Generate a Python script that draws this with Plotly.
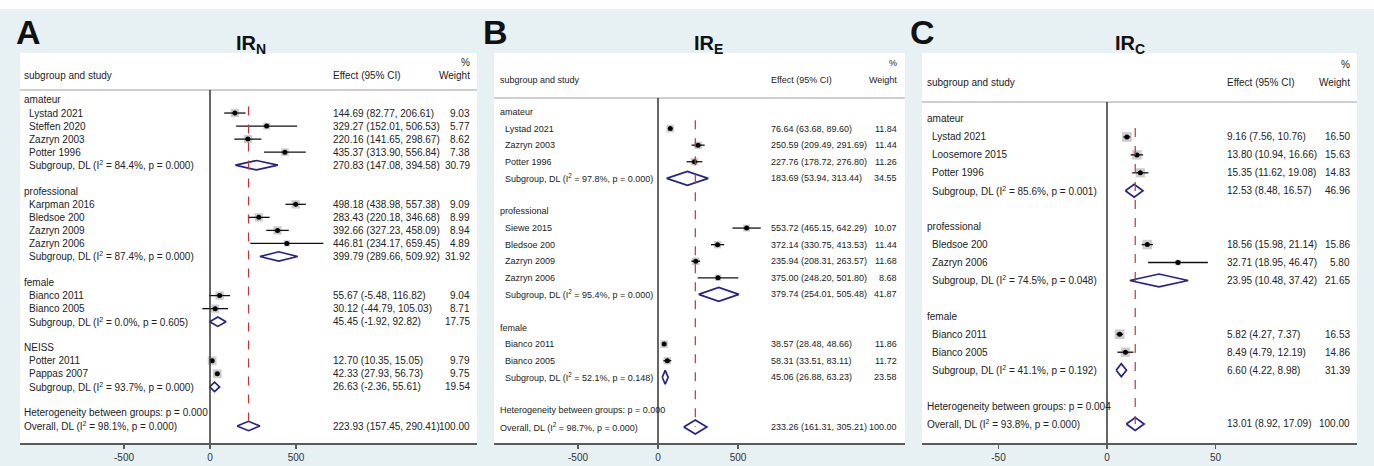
import plotly.graph_objects as go
import math

W, H = 1374, 466

# ---------------- DATA ----------------
A_groups = ["amateur", "professional", "female", "NEISS"]
A_studies = [["Lystad 2021", "Steffen 2020", "Zazryn 2003", "Potter 1996"],
             ["Karpman 2016", "Bledsoe 200", "Zazryn 2009", "Zazryn 2006"],
             ["Bianco 2011", "Bianco 2005"],
             ["Potter 2011", "Pappas 2007"]]
A_est = [[144.69, 329.27, 220.16, 435.37], [498.18, 283.43, 392.66, 446.81], [55.67, 30.12], [12.70, 42.33]]
A_lo = [[82.77, 152.01, 141.65, 313.90], [438.98, 220.18, 327.23, 234.17], [-5.48, -44.79], [10.35, 27.93]]
A_hi = [[206.61, 506.53, 298.67, 556.84], [557.38, 346.68, 458.09, 659.45], [116.82, 105.03], [15.05, 56.73]]
A_wt = [[9.03, 5.77, 8.62, 7.38], [9.09, 8.99, 8.94, 4.89], [9.04, 8.71], [9.79, 9.75]]
A_sub_est = [270.83, 399.79, 45.45, 26.63]
A_sub_lo = [147.08, 289.66, -1.92, -2.36]
A_sub_hi = [394.58, 509.92, 92.82, 55.61]
A_sub_wt = [30.79, 31.92, 17.75, 19.54]
A_sub_i2 = ["84.4", "87.4", "0.0", "93.7"]
A_sub_p = ["0.000", "0.000", "0.605", "0.000"]
A_het_p = "0.000"
A_overall = [223.93, 157.45, 290.41, 100.00]
A_overall_i2, A_overall_p = "98.1", "0.000"

B_groups = ["amateur", "professional", "female"]
B_studies = [["Lystad 2021", "Zazryn 2003", "Potter 1996"],
             ["Siewe 2015", "Bledsoe 200", "Zazryn 2009", "Zazryn 2006"],
             ["Bianco 2011", "Bianco 2005"]]
B_est = [[76.64, 250.59, 227.76], [553.72, 372.14, 235.94, 375.00], [38.57, 58.31]]
B_lo = [[63.68, 209.49, 178.72], [465.15, 330.75, 208.31, 248.20], [28.48, 33.51]]
B_hi = [[89.60, 291.69, 276.80], [642.29, 413.53, 263.57, 501.80], [48.66, 83.11]]
B_wt = [[11.84, 11.44, 11.26], [10.07, 11.44, 11.68, 8.68], [11.86, 11.72]]
B_sub_est = [183.69, 379.74, 45.06]
B_sub_lo = [53.94, 254.01, 26.88]
B_sub_hi = [313.44, 505.48, 63.23]
B_sub_wt = [34.55, 41.87, 23.58]
B_sub_i2 = ["97.8", "95.4", "52.1"]
B_sub_p = ["0.000", "0.000", "0.148"]
B_het_p = "0.000"
B_overall = [233.26, 161.31, 305.21, 100.00]
B_overall_i2, B_overall_p = "98.7", "0.000"

C_groups = ["amateur", "professional", "female"]
C_studies = [["Lystad 2021", "Loosemore 2015", "Potter 1996"],
             ["Bledsoe 200", "Zazryn 2006"],
             ["Bianco 2011", "Bianco 2005"]]
C_est = [[9.16, 13.80, 15.35], [18.56, 32.71], [5.82, 8.49]]
C_lo = [[7.56, 10.94, 11.62], [15.98, 18.95], [4.27, 4.79]]
C_hi = [[10.76, 16.66, 19.08], [21.14, 46.47], [7.37, 12.19]]
C_wt = [[16.50, 15.63, 14.83], [15.86, 5.80], [16.53, 14.86]]
C_sub_est = [12.53, 23.95, 6.60]
C_sub_lo = [8.48, 10.48, 4.22]
C_sub_hi = [16.57, 37.42, 8.98]
C_sub_wt = [46.96, 21.65, 31.39]
C_sub_i2 = ["85.6", "74.5", "41.1"]
C_sub_p = ["0.001", "0.048", "0.192"]
C_het_p = "0.004"
C_overall = [13.01, 8.92, 17.09, 100.00]
C_overall_i2, C_overall_p = "93.8", "0.000"

A_ticks = [-500, 0, 500]
B_ticks = [-500, 0, 500]
C_ticks = [-50, 0, 50]

# ---------------- LAYOUT CONFIG ----------------
FONT = "Liberation Sans, Arial, sans-serif"
BG = "#e7f0f3"
NAVY = "#23238a"
RED = "#c0343a"
TXT = "#222"

panels = [
    dict(letter="A", title="IR<sub>N</sub>", groups=A_groups, studies=A_studies, est=A_est, lo=A_lo, hi=A_hi, wt=A_wt,
         sest=A_sub_est, slo=A_sub_lo, shi=A_sub_hi, swt=A_sub_wt, si2=A_sub_i2, sp=A_sub_p, het=A_het_p,
         ov=A_overall, ovi2=A_overall_i2, ovp=A_overall_p, ticks=A_ticks,
         left=20, right=477, zero=210, k=86 / 500, row0=100, step=13.04, fs=10,
         gx=22, sx=27, ex=331, wx=472, hy=76, pcty=62, sep=90, tx=251, lx=28, dh=0.36, bs=2.8),
    dict(letter="B", title="IR<sub>E</sub>", groups=B_groups, studies=B_studies, est=B_est, lo=B_lo, hi=B_hi, wt=B_wt,
         sest=B_sub_est, slo=B_sub_lo, shi=B_sub_hi, swt=B_sub_wt, si2=B_sub_i2, sp=B_sub_p, het=B_het_p,
         ov=B_overall, ovi2=B_overall_i2, ovp=B_overall_p, ticks=B_ticks,
         left=494, right=905, zero=658, k=80 / 500, row0=112, step=16.58, fs=9,
         gx=498, sx=503, ex=769, wx=899, hy=80, pcty=63, sep=98, tx=708, lx=495, dh=0.42, bs=2.2),
    dict(letter="C", title="IR<sub>C</sub>", groups=C_groups, studies=C_studies, est=C_est, lo=C_lo, hi=C_hi, wt=C_wt,
         sest=C_sub_est, slo=C_sub_lo, shi=C_sub_hi, swt=C_sub_wt, si2=C_sub_i2, sp=C_sub_p, het=C_het_p,
         ov=C_overall, ovi2=C_overall_i2, ovp=C_overall_p, ticks=C_ticks,
         left=922, right=1357, zero=1107, k=108.5 / 50, row0=119, step=17.94, fs=10,
         gx=925, sx=930, ex=1225, wx=1352, hy=82, pcty=64, sep=102, tx=1130, lx=922, dh=0.36, bs=2.4),
]

TOP, BOTTOM = 53, 443


def pxx(x):
    return x / W


def pyy(y):
    return 1 - y / H


def txt(xref, yref, x, y, text, anchor="left", size=10, color=TXT):
    return dict(xref=xref, yref=yref, x=x, y=y, text=text, showarrow=False,
                xanchor=anchor, yanchor="middle", font=dict(family=FONT, size=size, color=color))


fig = go.Figure()
annotations = []
shapes = [dict(type="rect", xref="paper", yref="paper", x0=0, x1=1, y0=pyy(9), y1=1,
               fillcolor="white", line=dict(width=0), layer="below")]
layout_axes = {}

for i, p in enumerate(panels):
    n = "" if i == 0 else str(i + 1)
    xa, ya = "x" + n, "y" + n
    topr = (TOP - p["row0"]) / p["step"]
    botr = (BOTTOM - p["row0"]) / p["step"]
    sepr = (p["sep"] - p["row0"]) / p["step"]

    layout_axes["xaxis" + n] = dict(
        domain=[pxx(p["left"]), pxx(p["right"])],
        range=[(p["left"] - p["zero"]) / p["k"], (p["right"] - p["zero"]) / p["k"]],
        tickvals=p["ticks"], ticktext=[str(t) for t in p["ticks"]],
        showline=True, linecolor="#5a5a5a", linewidth=2, ticks="outside", ticklen=4,
        tickcolor="#5a5a5a", tickwidth=1.5, showgrid=False, zeroline=False,
        tickfont=dict(family=FONT, size=10, color="#333"), anchor=ya, fixedrange=True)
    layout_axes["yaxis" + n] = dict(
        domain=[pyy(BOTTOM), pyy(TOP)], range=[botr, topr], visible=False,
        anchor=xa, fixedrange=True)

    # build rows
    rows = []
    for g, grp in enumerate(p["groups"]):
        rows.append(("group", grp))
        for s, name in enumerate(p["studies"][g]):
            rows.append(("study", name, p["est"][g][s], p["lo"][g][s], p["hi"][g][s], p["wt"][g][s]))
        rows.append(("sub", "Subgroup, DL (I<sup>2</sup> = %s%%, p = %s)" % (p["si2"][g], p["sp"][g]),
                     p["sest"][g], p["slo"][g], p["shi"][g], p["swt"][g]))
        rows.append(("blank",))
    rows.append(("het", "Heterogeneity between groups: p = %s" % p["het"]))
    ov = p["ov"]
    rows.append(("sub", "Overall, DL (I<sup>2</sup> = %s%%, p = %s)" % (p["ovi2"], p["ovp"]), ov[0], ov[1], ov[2], ov[3]))
    overall_row = len(rows) - 1

    shapes.append(dict(type="line", xref="paper", yref="paper", x0=pxx(p["left"]), x1=pxx(p["right"]),
                       y0=pyy(p["sep"]), y1=pyy(p["sep"]), line=dict(color="#cfcfcf", width=2)))
    shapes.append(dict(type="line", xref=xa, yref=ya, x0=0, x1=0, y0=sepr, y1=botr,
                       line=dict(color="#333333", width=1.5)))
    shapes.append(dict(type="line", xref=xa, yref=ya, x0=ov[0], x1=ov[0], y0=0.5, y1=overall_row,
                       line=dict(color=RED, width=1.2, dash="dash")))

    sq_x, sq_y, sq_s = [], [], []
    ci_x, ci_y = [], []
    dm_x, dm_y = [], []
    fs = p["fs"]
    for r, row in enumerate(rows):
        kind = row[0]
        if kind == "blank":
            continue
        if kind in ("group", "het"):
            annotations.append(txt("paper", ya, pxx(p["gx"]), r, row[1], size=fs))
            continue
        label, est, lo, hi, wt = row[1:]
        lx = p["gx"] if label.startswith("Overall") else p["sx"]
        annotations.append(txt("paper", ya, pxx(lx), r, label, size=fs))
        annotations.append(txt("paper", ya, pxx(p["ex"]), r, "%.2f (%.2f, %.2f)" % (est, lo, hi), size=fs))
        annotations.append(txt("paper", ya, pxx(p["wx"]), r, "%.2f" % wt, anchor="right", size=fs))
        if kind == "study":
            sq_x.append(est); sq_y.append(r); sq_s.append(p["bs"] * math.sqrt(wt))
            ci_x += [lo, hi, None]; ci_y += [r, r, None]
        else:
            h = p["dh"]
            dm_x += [lo, est, hi, est, lo, None]
            dm_y += [r, r - h, r, r + h, r, None]

    fig.add_trace(go.Scatter(x=sq_x, y=sq_y, mode="markers", xaxis=xa, yaxis=ya, hoverinfo="skip",
                             marker=dict(symbol="square", size=sq_s, color="#b8b8b8", line=dict(width=0))))
    fig.add_trace(go.Scatter(x=ci_x, y=ci_y, mode="lines", xaxis=xa, yaxis=ya, hoverinfo="skip",
                             line=dict(color="#111", width=1.3)))
    fig.add_trace(go.Scatter(x=sq_x, y=sq_y, mode="markers", xaxis=xa, yaxis=ya, hoverinfo="skip",
                             marker=dict(symbol="circle", size=5, color="#000")))
    fig.add_trace(go.Scatter(x=dm_x, y=dm_y, mode="lines", xaxis=xa, yaxis=ya, hoverinfo="skip",
                             line=dict(color=NAVY, width=1.7)))

    annotations.append(txt("paper", "paper", pxx(p["gx"]), pyy(p["hy"]), "subgroup and study", size=fs))
    annotations.append(txt("paper", "paper", pxx(p["ex"]), pyy(p["hy"]), "Effect (95% CI)", size=fs))
    annotations.append(txt("paper", "paper", pxx(p["wx"]), pyy(p["hy"]), "Weight", anchor="right", size=fs))
    annotations.append(txt("paper", "paper", pxx(p["wx"]), pyy(p["pcty"]), "%", anchor="right", size=fs))
    annotations.append(txt("paper", "paper", pxx(p["tx"]), pyy(45), "<b>%s</b>" % p["title"],
                           anchor="center", size=20, color="#111"))
    annotations.append(txt("paper", "paper", pxx(p["lx"]), pyy(32), "<b>%s</b>" % p["letter"],
                           anchor="center", size=34, color="#111"))

fig.update_layout(width=W, height=H, margin=dict(l=0, r=0, t=0, b=0), showlegend=False,
                  paper_bgcolor=BG, plot_bgcolor="white", annotations=annotations, shapes=shapes,
                  **layout_axes)
fig.write_html("out.html", config={"displayModeBar": False, "staticPlot": True},
               post_script="document.body.style.margin='0';document.body.style.overflow='hidden';")
